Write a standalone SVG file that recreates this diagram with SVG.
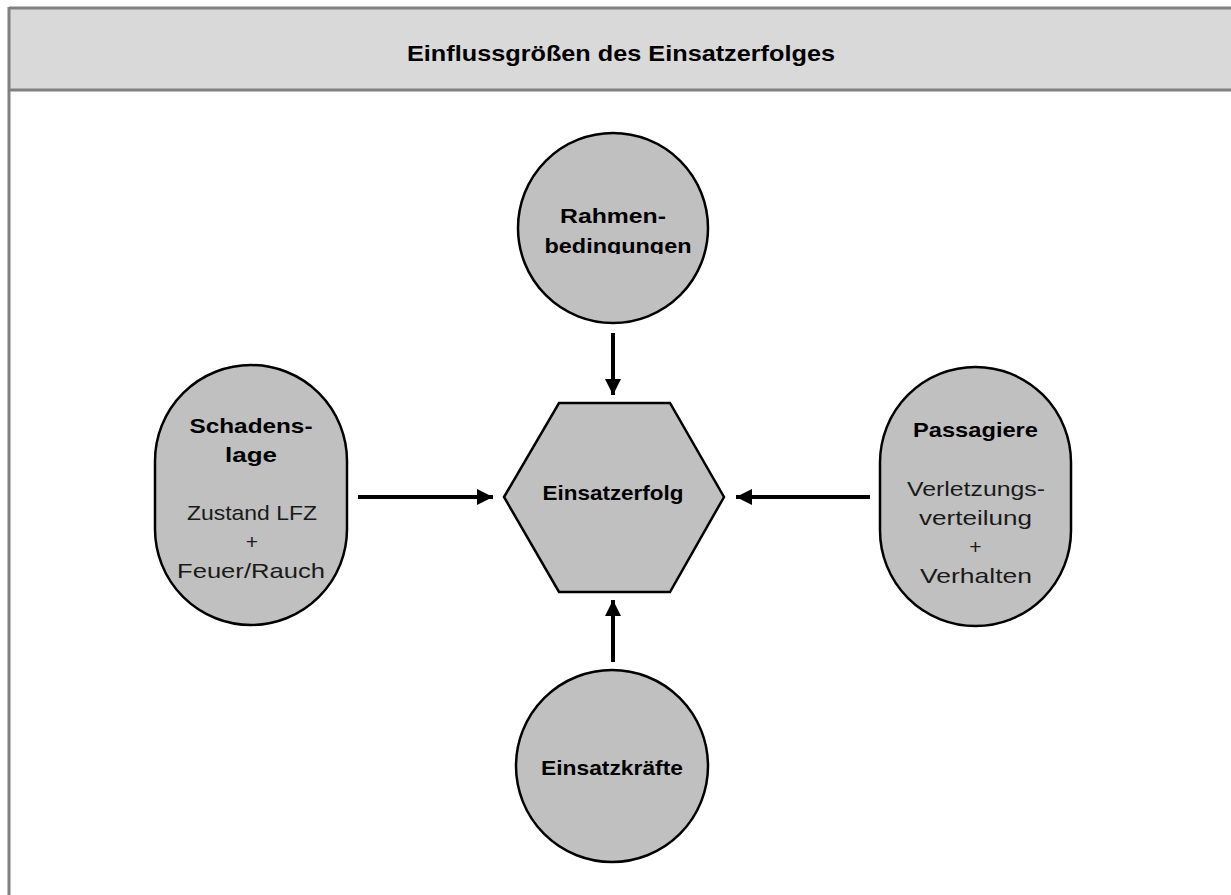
<svg xmlns="http://www.w3.org/2000/svg" width="1231" height="895" viewBox="0 0 1231 895">
<defs>
<style>
.shape{fill:#c0c0c0;stroke:#000;stroke-width:2.5}
.b{font-family:"Liberation Sans",Arial,sans-serif;font-weight:bold;font-size:21px;fill:#000;text-anchor:middle}
.r{font-family:"Liberation Sans",Arial,sans-serif;font-size:21px;fill:#1a1a1a;text-anchor:middle}
.conn{stroke:#000;stroke-width:4;fill:none}
.frame{stroke:#808080;stroke-width:3;fill:none}
</style>
<marker id="ah" viewBox="0 0 16 16" refX="16" refY="8" markerWidth="16" markerHeight="16" markerUnits="userSpaceOnUse" orient="auto">
<path d="M0,0 L16,8 L0,16 Z" fill="#000"/>
</marker>
<clipPath id="clipTop"><rect x="500" y="130" width="230" height="124"/></clipPath>
<clipPath id="clipRight"><rect x="880" y="560" width="200" height="24"/></clipPath>
</defs>
<rect x="0" y="0" width="1231" height="895" fill="#fff"/>
<g id="header">
<rect x="9" y="8" width="1222" height="82" fill="#d9d9d9"/>
<line class="frame" x1="9" y1="8" x2="1231" y2="8"/>
<line class="frame" x1="9" y1="90" x2="1231" y2="90"/>
<line class="frame" x1="9" y1="7" x2="9" y2="895"/>
<text x="621" y="61" font-family="Liberation Sans,Arial,sans-serif" font-weight="bold" font-size="22" text-anchor="middle" textLength="428" lengthAdjust="spacingAndGlyphs">Einflussgrößen des Einsatzerfolges</text>
</g>
<g id="rahmenbedingungen">
<circle class="shape" cx="613" cy="228" r="95"/>
<text class="b" x="613" y="223" textLength="106" lengthAdjust="spacingAndGlyphs">Rahmen-</text>
<g clip-path="url(#clipTop)"><text class="b" x="618" y="253" textLength="147" lengthAdjust="spacingAndGlyphs">bedingungen</text></g>
</g>
<g id="einsatzerfolg">
<polygon class="shape" points="504,497 559,403 670,403 724,497 670,592 559,592"/>
<text class="b" x="613" y="500" textLength="141" lengthAdjust="spacingAndGlyphs">Einsatzerfolg</text>
</g>
<g id="schadenslage">
<rect class="shape" x="155" y="365" width="192" height="260" rx="96" ry="96"/>
<text class="b" x="251" y="433" textLength="123" lengthAdjust="spacingAndGlyphs">Schadens-</text>
<text class="b" x="251" y="462" textLength="52" lengthAdjust="spacingAndGlyphs">lage</text>
<text class="r" x="252" y="520" textLength="130" lengthAdjust="spacingAndGlyphs">Zustand LFZ</text>
<text class="r" x="252" y="549">+</text>
<text class="r" x="251" y="578" textLength="148" lengthAdjust="spacingAndGlyphs">Feuer/Rauch</text>
</g>
<g id="passagiere">
<rect class="shape" x="880" y="367" width="191" height="259" rx="95.5" ry="95.5"/>
<text class="b" x="975.5" y="437" textLength="125" lengthAdjust="spacingAndGlyphs">Passagiere</text>
<text class="r" x="976" y="496" textLength="138" lengthAdjust="spacingAndGlyphs">Verletzungs-</text>
<text class="r" x="975.5" y="525" textLength="113" lengthAdjust="spacingAndGlyphs">verteilung</text>
<text class="r" x="975.5" y="554">+</text>
<g clip-path="url(#clipRight)"><text class="r" x="976" y="583" textLength="112" lengthAdjust="spacingAndGlyphs">Verhalten</text></g>
</g>
<g id="einsatzkraefte">
<circle class="shape" cx="612" cy="766" r="96"/>
<text class="b" x="612" y="775" textLength="142" lengthAdjust="spacingAndGlyphs">Einsatzkräfte</text>
</g>
<g id="connectors">
<line class="conn" x1="613" y1="333" x2="613" y2="395" marker-end="url(#ah)"/>
<line class="conn" x1="358" y1="497" x2="493" y2="497" marker-end="url(#ah)"/>
<line class="conn" x1="870" y1="497" x2="736" y2="497" marker-end="url(#ah)"/>
<line class="conn" x1="613" y1="662" x2="613" y2="600" marker-end="url(#ah)"/>
</g>
</svg>
